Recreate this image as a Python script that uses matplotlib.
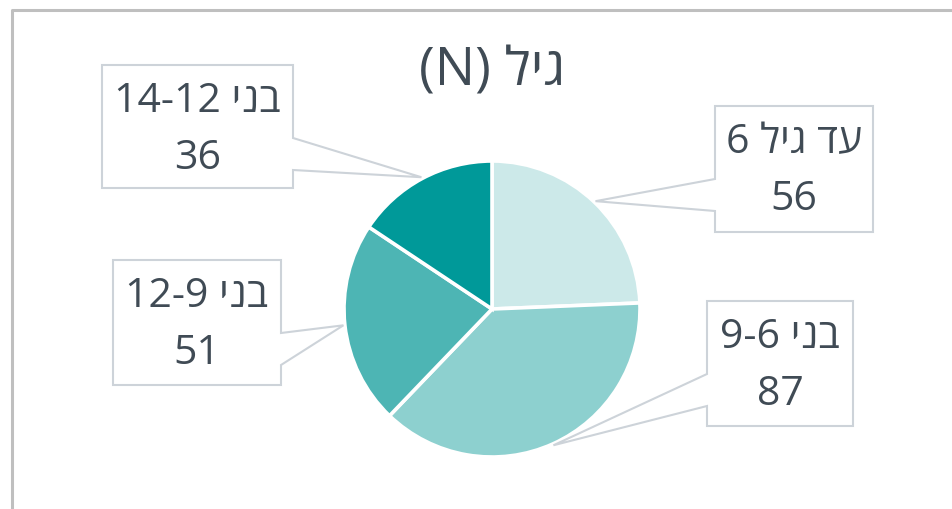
import re
import numpy as np
import matplotlib
matplotlib.use("Agg")
import matplotlib.pyplot as plt
from matplotlib.patches import Polygon

plt.rcParams['font.family'] = ['Open Sans', 'DejaVu Sans']

title = "גיל (N)"
labels = ["עד גיל 6", "בני 6-9", "בני 9-12", "בני 12-14"]
values = [56, 87, 51, 36]
colors = ["#cce9e9", "#8dd0cf", "#4db5b4", "#009999"]
text_col = "#404b55"
box_col = "#cdd3d9"


def visual(s):
    # crude RTL -> visual order: reverse, then put latin/digit runs back
    r = s[::-1]
    r = re.sub(r"[0-9A-Za-z]+", lambda m: m.group(0)[::-1], r)
    return r.translate(str.maketrans("()", ")("))


W, H = 953, 510
fig = plt.figure(figsize=(W / 100, H / 100), dpi=100)
ax = fig.add_axes([0, 0, 1, 1])
ax.set_xlim(0, W)
ax.set_ylim(0, H)
ax.set_aspect("equal")
ax.axis("off")

# chart frame (only top and left visible)
ax.plot([12, 12, W], [0, H - 11, H - 11], color="#bfbfbf", lw=2.2,
        solid_capstyle="butt")

cx, cy, r = 492, 200, 148
wedges, _ = ax.pie(values, colors=colors, startangle=90, counterclock=False,
                   center=(cx, cy), radius=r, frame=True,
                   wedgeprops=dict(edgecolor="white", linewidth=2.6))
ax.set_xlim(0, W)
ax.set_ylim(0, H)
ax.axis("off")

ax.text(cx, H - 72, visual(title), ha="center", va="center",
        fontsize=38.5, color=text_col)

# label boxes: left, top, right, bottom (image px), side of pointer, pointer y's
boxes = [
    (715, 107, 873, 233, "left", 180, 212),
    (707, 302, 853, 427, "left", 375, 407),
    (113, 261, 281, 386, "right", 334, 366),
    (102, 66, 293, 189, "right", 139, 171),
]

for w, lab, val, (L, T, R, B, side, p1, p2) in zip(wedges, labels, values, boxes):
    ang = np.deg2rad((w.theta1 + w.theta2) / 2)
    tx = cx + 1.01 * r * np.cos(ang)
    ty = cy + 1.01 * r * np.sin(ang)
    t, b, q1, q2 = H - T, H - B, H - p1, H - p2
    if side == "right":
        pts = [(L, t), (R, t), (R, q1), (tx, ty), (R, q2), (R, b), (L, b)]
    else:
        pts = [(L, t), (R, t), (R, b), (L, b), (L, q2), (tx, ty), (L, q1)]
    ax.add_patch(Polygon(pts, closed=True, facecolor="white",
                         edgecolor=box_col, lw=1.5, zorder=3))
    mx = (L + R) / 2
    ax.text(mx, H - (T + 36), visual(lab), ha="center", va="center",
            fontsize=29.5, color=text_col, zorder=4)
    ax.text(mx, H - (T + 93), str(val), ha="center", va="center",
            fontsize=29.5, color=text_col, zorder=4)

fig.savefig("out.png", dpi=100)
